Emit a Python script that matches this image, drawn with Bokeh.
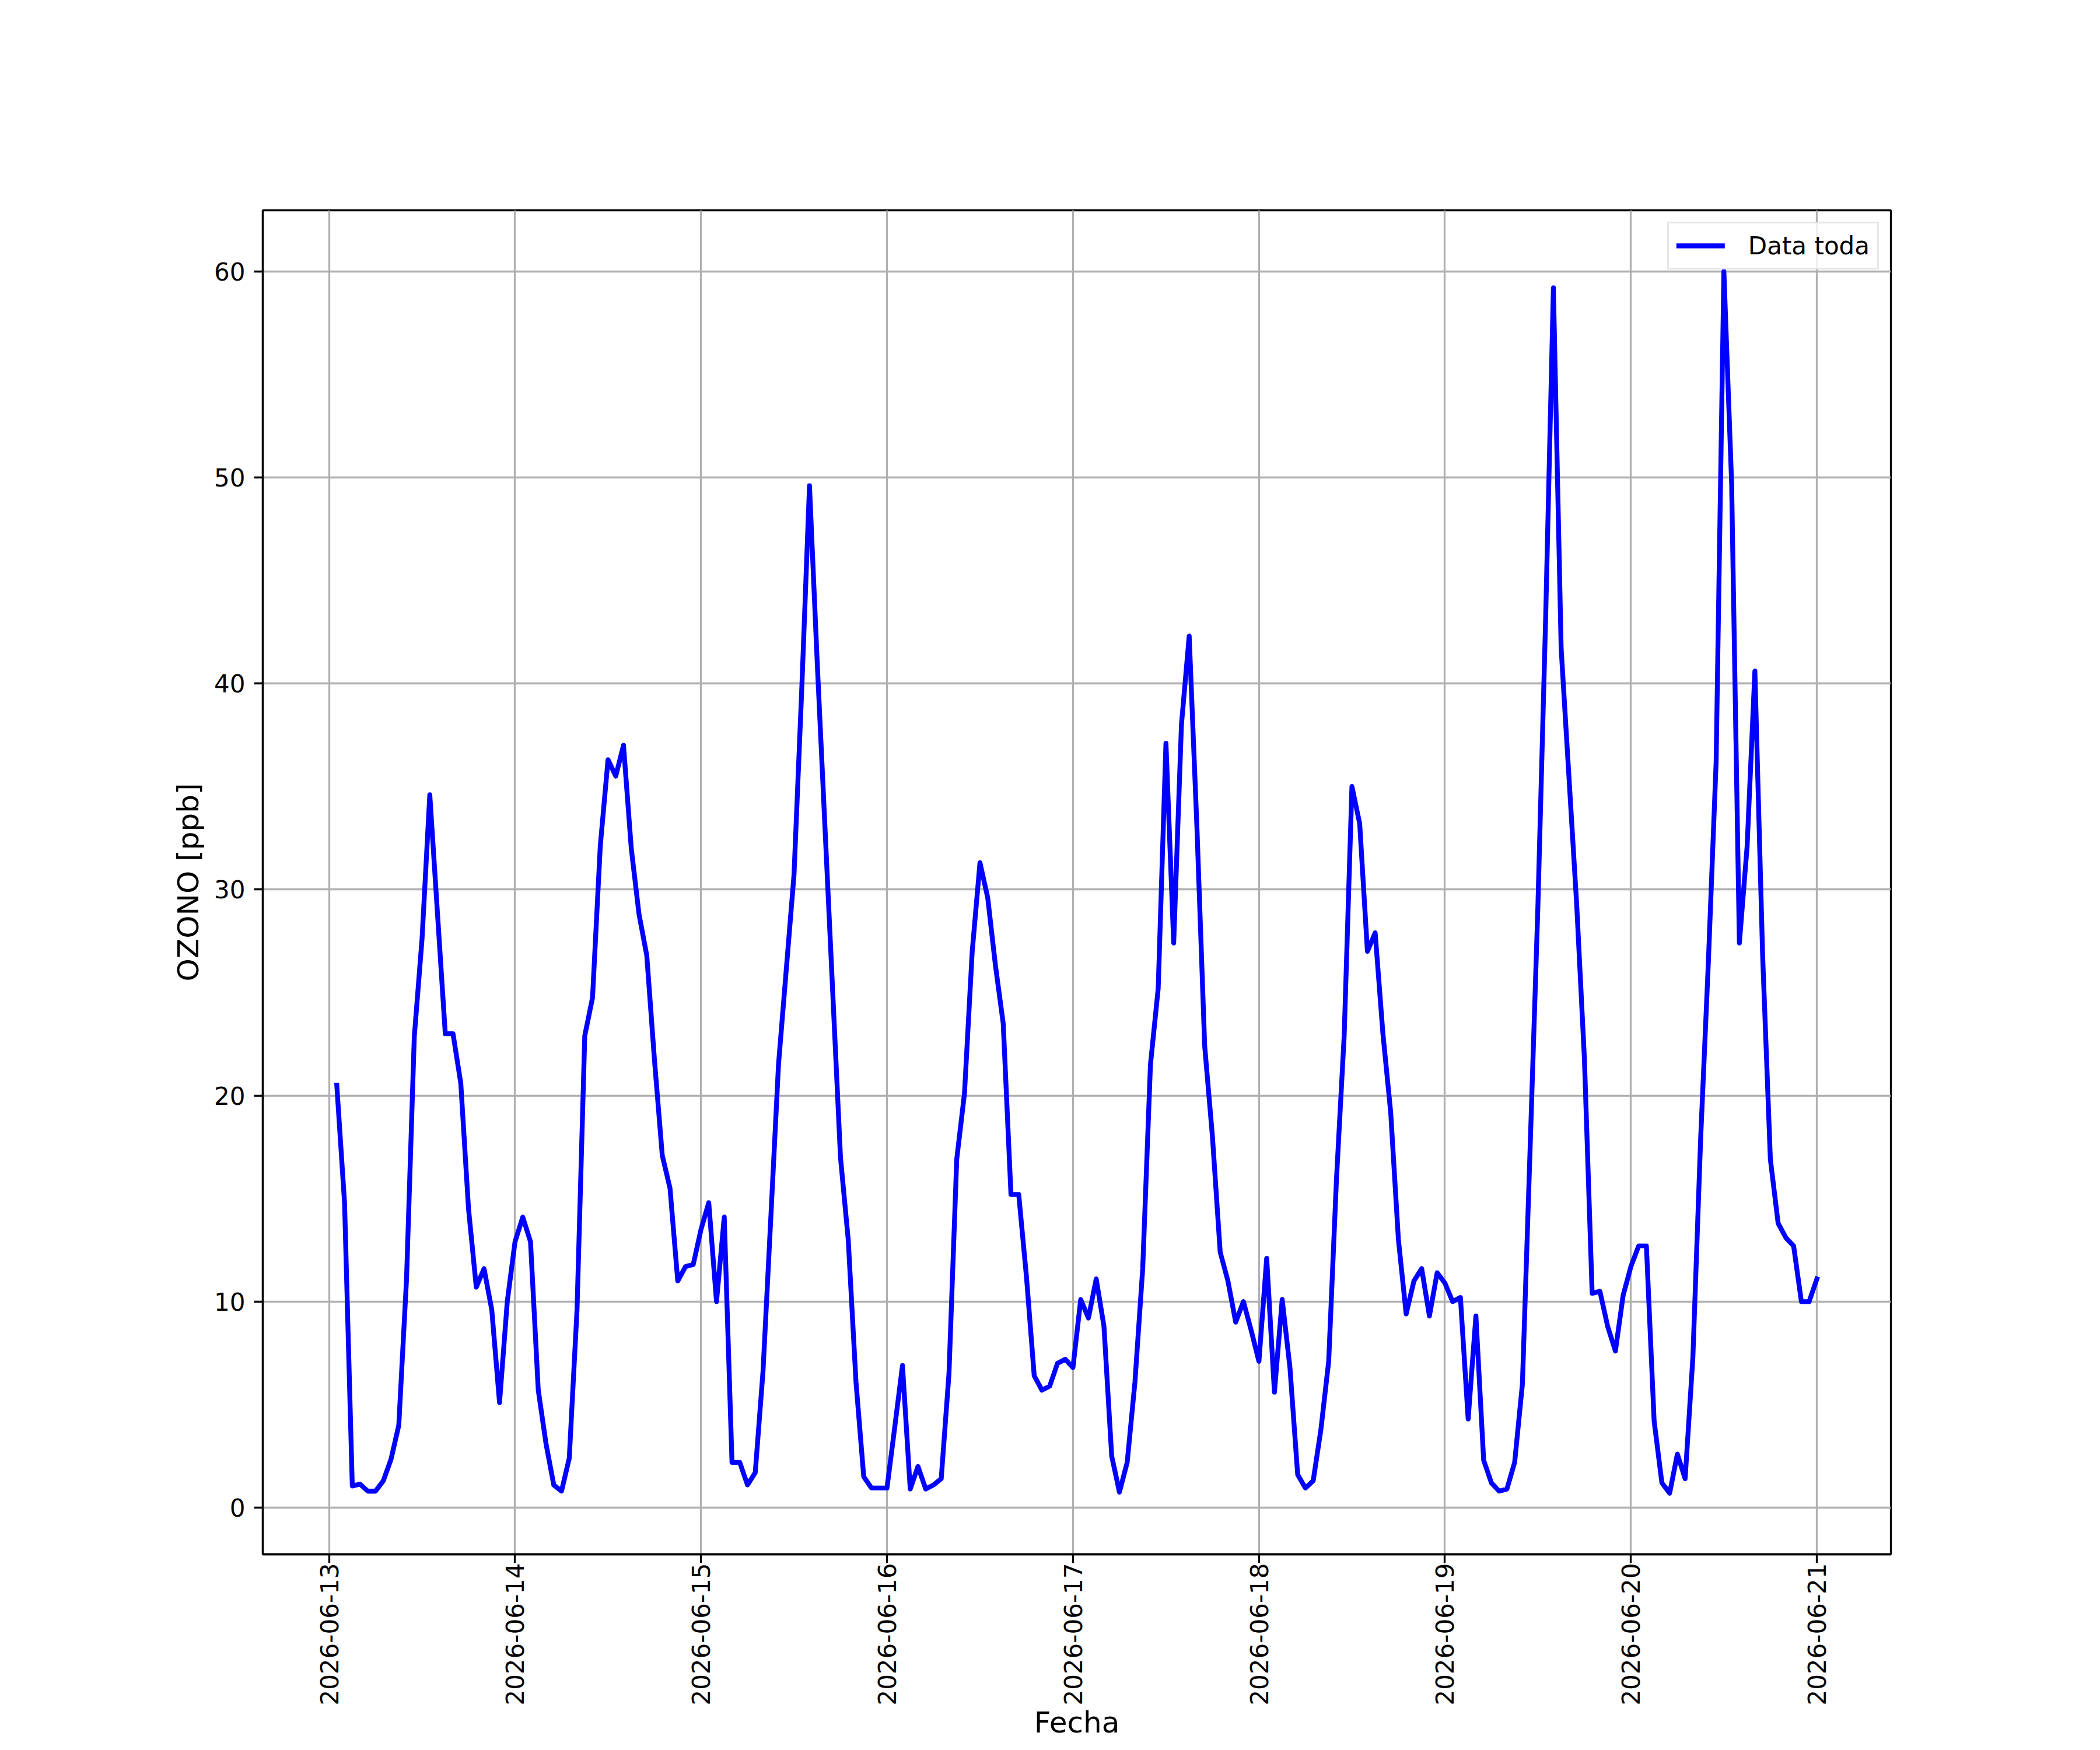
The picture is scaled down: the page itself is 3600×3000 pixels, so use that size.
import math
import pandas as pd
from bokeh.plotting import figure
from bokeh.models import (Range1d, FixedTicker, DatetimeTickFormatter, Legend, LegendItem)
from bokeh.embed import file_html
from bokeh.resources import INLINE

# ---- data (hourly ozone, ppb) ----
start_time = "2026-06-13 01:00"
ozono_ppb = [
    20.5, 14.8, 1.05, 1.14, 0.8, 0.8, 1.3, 2.35, 4.0, 11.1, 22.85, 27.6,
    34.6, 28.8, 23.0, 23.0, 20.6, 14.5, 10.7, 11.6, 9.6, 5.1, 10.0, 12.9,
    14.1, 12.9, 5.7, 3.1, 1.1, 0.8, 2.4, 9.6, 22.9, 24.75, 32.1, 36.3,
    35.5, 37.0, 32.0, 28.8, 26.8, 21.7, 17.1, 15.5, 11.0, 11.7, 11.8, 13.5,
    14.8, 10.0, 14.1, 2.2, 2.2, 1.1, 1.7, 6.6, 14.0, 21.5, 26.1, 30.7,
    39.7, 49.6, 41.0, 33.0, 25.0, 17.0, 13.0, 6.1, 1.5, 0.95, 0.95, 0.95,
    3.9, 6.9, 0.9, 2.0, 0.9, 1.1, 1.4, 6.5, 16.9, 20.1, 27.0, 31.3,
    29.6, 26.3, 23.5, 15.2, 15.2, 11.2, 6.4, 5.7, 5.9, 7.0, 7.2, 6.8,
    10.1, 9.2, 11.1, 8.8, 2.5, 0.75, 2.2, 6.1, 11.6, 21.5, 25.2, 37.1,
    27.4, 38.0, 42.3, 33.0, 22.4, 18.0, 12.4, 11.0, 9.0, 10.0, 8.6, 7.1,
    12.1, 5.6, 10.1, 6.8, 1.6, 0.95, 1.3, 3.8, 7.1, 15.9, 22.9, 35.0,
    33.2, 27.0, 27.9, 23.0, 19.2, 13.0, 9.4, 11.0, 11.6, 9.3, 11.4, 10.9,
    10.0, 10.2, 4.3, 9.3, 2.3, 1.2, 0.8, 0.9, 2.2, 6.0, 17.5, 29.2,
    43.2, 59.2, 41.7, 35.5, 29.3, 21.8, 10.4, 10.5, 8.8, 7.6, 10.3, 11.7,
    12.7, 12.7, 4.2, 1.2, 0.7, 2.6, 1.4, 7.3, 17.9, 26.5, 36.2, 60.0,
    49.7, 27.4, 32.1, 40.6, 26.8, 16.9, 13.8, 13.1, 12.7, 10.0, 10.0, 11.1,
]
tick_days = ["2026-06-13", "2026-06-14", "2026-06-15", "2026-06-16", "2026-06-17",
             "2026-06-18", "2026-06-19", "2026-06-20", "2026-06-21"]
y_ticks = [0, 10, 20, 30, 40, 50, 60]
series_label = "Data toda"
x_label = "Fecha"
y_label = "OZONO [ppb]"

fechas = pd.date_range(start_time, periods=len(ozono_ppb), freq="h")

# ---- ranges with 5% margins (like matplotlib autoscale) ----
t0, t1 = fechas[0], fechas[-1]
span = t1 - t0
xr = Range1d(t0 - span * 0.05, t1 + span * 0.05)
ymin, ymax = min(ozono_ppb), max(ozono_ppb)
yspan = ymax - ymin
yr = Range1d(ymin - 0.05 * yspan, ymax + 0.05 * yspan)

FONT = "DejaVu Sans"
FS = "42px"
LFS = "50px"
LW = 3.3

p = figure(width=3584, height=2984, x_axis_type="datetime",
           x_range=xr, y_range=yr, output_backend="svg", toolbar_location=None,
           min_border_left=450, min_border_right=343, min_border_top=360,
           min_border_bottom=314)
p.background_fill_color = "white"
p.border_fill_color = "white"
p.outline_line_color = "black"
p.outline_line_width = LW

r = p.line(fechas, ozono_ppb, line_color="#0000ff", line_width=8.3,
           line_join="round", line_cap="square")

# axes
tick_ms = [pd.Timestamp(d).value / 1e6 for d in tick_days]
p.xaxis.ticker = FixedTicker(ticks=tick_ms)
fmt = "%Y-%m-%d"
p.xaxis.formatter = DatetimeTickFormatter(
    microseconds=fmt, milliseconds=fmt, seconds=fmt, minsec=fmt, minutes=fmt,
    hourmin=fmt, hours=fmt, days=fmt, months=fmt, years=fmt)
p.xaxis.major_label_orientation = math.pi / 2
p.yaxis.ticker = FixedTicker(ticks=y_ticks)

for ax in (p.xaxis, p.yaxis):
    ax.axis_line_color = "black"
    ax.axis_line_width = LW
    ax.major_tick_line_color = "black"
    ax.major_tick_line_width = LW
    ax.major_tick_out = 15
    ax.major_tick_in = 0
    ax.minor_tick_line_color = None
    ax.major_label_text_font = FONT
    ax.major_label_text_font_size = FS
    ax.major_label_text_color = "black"
    ax.axis_label_text_font = FONT
    ax.axis_label_text_font_size = LFS
    ax.axis_label_text_font_style = "normal"
    ax.axis_label_text_color = "black"

p.xaxis.major_label_standoff = 0
p.yaxis.major_label_standoff = 15
p.xaxis.axis_label = x_label
p.xaxis.axis_label_standoff = -3
p.yaxis.axis_label = y_label
p.yaxis.axis_label_standoff = 12

for g in (p.xgrid, p.ygrid):
    g.grid_line_color = "#b0b0b0"
    g.grid_line_width = LW
p.xgrid.ticker = p.xaxis.ticker
p.ygrid.ticker = p.yaxis.ticker

legend = Legend(items=[LegendItem(label=series_label, renderers=[r])],
                location="top_right", margin=20, padding=13,
                glyph_width=83, glyph_height=50, label_standoff=40,
                label_text_font=FONT, label_text_font_size=FS,
                label_text_color="black",
                border_line_color="#cccccc", border_line_width=LW,
                background_fill_color="white", background_fill_alpha=0.8)
p.add_layout(legend)

open("out.html", "w").write(file_html(p, INLINE))
